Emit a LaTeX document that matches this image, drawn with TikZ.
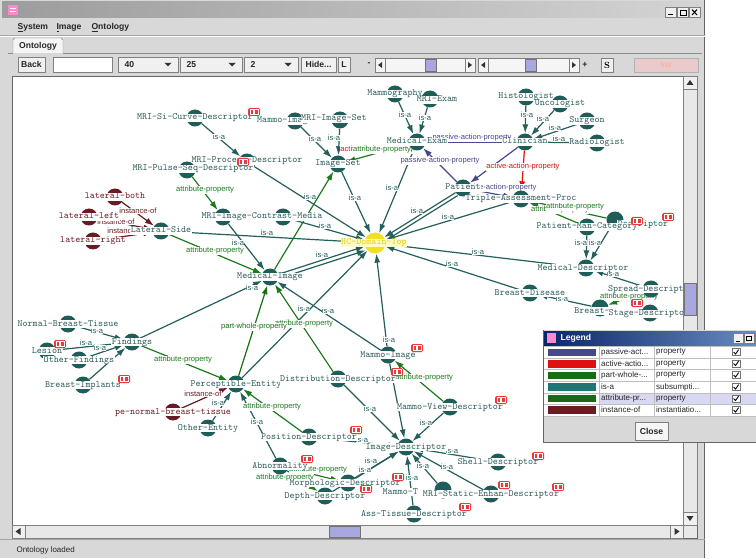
\documentclass[tikz,border=0pt]{standalone}
\usepackage{fontspec}
\newfontfamily\uifont{Liberation Sans}
\usetikzlibrary{arrows.meta}
\definecolor{nodecol}{HTML}{1F5E58}
\definecolor{labcol}{HTML}{2E5A5A}
\definecolor{isacol}{HTML}{245F5C}
\definecolor{attrcol}{HTML}{1C7A1C}
\definecolor{pwcol}{HTML}{127012}
\definecolor{instcol}{HTML}{6A1A22}
\definecolor{passcol}{HTML}{48488C}
\definecolor{actcol}{HTML}{E01010}
\definecolor{uigray}{HTML}{D8D8D8}
\definecolor{thumbcol}{HTML}{A8A8DE}
\definecolor{badgecol}{HTML}{E83A3A}
\definecolor{hccol}{HTML}{F0E020}
\definecolor{hctext}{HTML}{E0CC10}
\definecolor{hcbg}{HTML}{FFFCC8}
\definecolor{ttlA}{HTML}{9C9C9C}
\definecolor{ttlB}{HTML}{D4D4D4}
\definecolor{legA}{HTML}{0A246A}
\definecolor{legB}{HTML}{6A8CC0}
\definecolor{hlcol}{HTML}{D8D8F2}
\definecolor{inscol}{HTML}{EACACA}
\pgfdeclarelayer{bg}\pgfdeclarelayer{edges}\pgfdeclarelayer{top}
\pgfsetlayers{bg,edges,main,top}
\tikzset{
 ont/.style={circle,fill=nodecol,minimum size=17pt,inner sep=0pt},
 insto/.style={ont,fill=instcol},
 hco/.style={ont,fill=hccol,minimum size=21pt},
 lbl/.style={fill=white,inner sep=0.5pt,text height=5.8pt,text depth=1.8pt,font=\ttfamily\fontsize{9.6}{10}\selectfont,text=labcol},
 ilbl/.style={lbl,text=instcol},
 el/.style={fill=white,inner sep=0.3pt,font=\uifont\fontsize{7.6}{8}\selectfont},
 lisa/.style={el,text=isacol},
 lattr/.style={el,text=attrcol},
 linst/.style={el,text=instcol},
 lpass/.style={el,text=passcol},
 lact/.style={el,text=actcol},
 eisa/.style={draw=isacol,line width=1.2pt,-{Latex[length=9pt,width=6pt]}},
 eattr/.style={eisa,draw=attrcol},
 epw/.style={eisa,draw=pwcol},
 einst/.style={eisa,draw=instcol},
 epass/.style={eisa,draw=passcol},
 eact/.style={eisa,draw=actcol},
 ui/.style={font=\uifont\bfseries\fontsize{8.6}{9}\selectfont,text=black!85},
 uin/.style={font=\uifont\fontsize{8}{9}\selectfont,text=black!85},
 btn/.style={draw=black!50,fill=black!6},
}
\newcommand\ON[3]{\node[ont] (#1) at (#2) {};\node[lbl] at (#2) {#3};}
\newcommand\OI[3]{\node[insto] (#1) at (#2) {};\node[ilbl] at (#2) {#3};}
\newcommand\badge[1]{\begin{scope}[shift={(#1)}]\fill[badgecol,rounded corners=1.5pt] (-6,-4) rectangle (6,4);\draw[white,line width=0.6pt] (-4.2,-2.4) rectangle (-0.6,2.4) (0.6,-2.4) rectangle (4.2,2.4);\end{scope}}
\newcommand\legrow[3]{%
 \node[uin,anchor=west,inner sep=0pt] at (601,#1) {#2};
 \node[uin,anchor=west,inner sep=0pt] at (656,#1) {#3};
 \draw[black!55,fill=white] (732,#1-3.5) rectangle (740,#1+3.5);
 \draw[black,line width=0.9pt] (733.6,#1) -- (735.6,#1+2) -- (738.6,#1-2.4);}
\begin{document}
\begin{tikzpicture}[x=1pt,y=-1pt]
\useasboundingbox (0,0) rectangle (756,559);
% ---------------- window chrome
\begin{pgfonlayer}{bg}
\fill[white] (0,0) rectangle (756,559);
\fill[uigray] (0,0) rectangle (705,558);
\draw[black!60] (704.5,0) -- (704.5,558);
\shade[left color=ttlA,right color=ttlB] (2,2) rectangle (703,18);
\fill[magenta!45] (8,5) rectangle (18,15);
\draw[white,line width=0.8pt] (10,8) -- (16,8) (10,11) -- (16,11);
\foreach \x in {665,677,689}{\draw[btn] (\x,7) rectangle (\x+11,17);}
\draw[black,line width=1pt] (668,15) -- (673,15);
\draw[black,line width=0.8pt] (680,10) rectangle (686,15);
\draw[black,line width=1pt] (692,9.5) -- (697,15) (697,9.5) -- (692,15);
\node[ui,anchor=base west] at (14,30) {\underline{S}ystem};
\node[ui,anchor=base west] at (53,30) {\underline{I}mage};
\node[ui,anchor=base west] at (88,30) {\underline{O}ntology};
\draw[black!35] (0,35.5) -- (705,35.5);
\draw[white] (0,36.5) -- (705,36.5);
\draw[black!45,fill=black!4] (13,53) -- (13,40) -- (15,38) -- (61,38) -- (63,40) -- (63,53);
\node[ui] at (38,46) {Ontology};
\draw[black!45] (8,53.5) -- (13,53.5) (63,53.5) -- (702,53.5);
% toolbar
\draw[btn] (18,57) rectangle (45,72); \node[ui] at (31.5,64.5) {Back};
\draw[black!50,fill=white] (53,57) rectangle (112,72);
\draw[btn] (118,57) rectangle (178,72); \node[ui,anchor=west] at (121,64.5) {40};
\draw[btn] (180,57) rectangle (242,72); \node[ui,anchor=west] at (183,64.5) {25};
\draw[btn] (244,57) rectangle (298,72); \node[ui,anchor=west] at (247,64.5) {2};
\foreach \x in {168,232,288}{\fill[black!80] (\x-3.5,63) -- (\x+3.5,63) -- (\x,66.5) -- cycle;}
\draw[btn] (301,57) rectangle (336,72); \node[ui] at (318.5,64.5) {Hide...};
\draw[btn] (338,57) rectangle (350,72); \node[ui] at (344,64.5) {L};
\node[ui] at (369,64.5) {-};
\foreach \a/\b/\t in {375/475/425,478/579/525}{
 \draw[black!50,fill=black!4] (\a,58) rectangle (\b,72);
 \draw[black!50] (\a+10,58) -- (\a+10,72) (\b-10,58) -- (\b-10,72);
 \fill[black!80] (\a+3,65) -- (\a+7,62) -- (\a+7,68) -- cycle;
 \fill[black!80] (\b-3,65) -- (\b-7,62) -- (\b-7,68) -- cycle;
 \draw[black!55,fill=thumbcol] (\t,59) rectangle (\t+11,71);}
\node[ui] at (585,64.5) {+};
\draw[btn] (601,58) rectangle (613,72); \node[font=\rmfamily\bfseries\fontsize{9}{9}\selectfont] at (607,65) {S};
\draw[black!30,fill=inscol] (634,58) rectangle (698,72); \node[uin,text=red!35] at (666,65) {Ins};
% canvas
\fill[white] (12,76) rectangle (683,525);
\draw[black!60] (12,76) rectangle (697,538);
\draw[black!35] (0,539.5) -- (705,539.5);
\node[uin,anchor=base west] at (13,552) {Ontology loaded};
\end{pgfonlayer}
% ---------------- nodes
\ON{mrisi}{195,118}{MRI-Si-Curve-Descriptor}
\ON{mammoimgset}{295,121}{Mammo-Image-Set}
\node[ont] (mriimgset) at (340,120) {}; \node[lbl] at (334,119) {MRI-Image-Set};
\ON{mammography}{395,94}{Mammography}
\node[ont] (mriexam) at (430,99) {}; \node[lbl] at (437,100) {MRI-Exam};
\ON{medexam}{417,142}{Medical-Exam}
\ON{imageset}{338,164}{Image-Set}
\ON{histologist}{526,97}{Histologist}
\ON{uncologist}{560,104}{Uncologist}
\ON{surgeon}{587,121}{Surgeon}
\ON{radiologist}{597,143}{Radiologist}
\ON{clinician}{525,142}{Clinician}
\ON{patient}{463,188}{Patient}
\ON{triple}{521,199}{Triple-Assessment-Proc}
\node[ont] (descr) at (615,220) {}; \node[lbl] at (643,224) {Descriptor};
\ON{pmc}{587,227}{Patient-Man-Category}
\node[ont] (meddesc) at (586,268) {}; \node[lbl] at (583,268) {Medical-Descriptor};
\ON{spread}{651,289}{Spread-Descriptor}
\ON{breastdisease}{530,293}{Breast-Disease}
\node[ont] (breastx) at (600,308) {}; \node[lbl] at (592,311) {Breast-};
\node[ont] (stage) at (650,313) {}; \node[lbl] at (649,314) {Stage-Descriptor};
\OI{lboth}{115,197}{lateral-both}
\OI{lleft}{89,217}{lateral-left}
\OI{lright}{93,241}{lateral-right}
\ON{latside}{161,231}{Lateral-Side}
\node[ont] (mriproc) at (247,162) {}; \node[lbl] at (247,161) {MRI-Process-Descriptor};
\node[ont] (mripulse) at (187,170) {}; \node[lbl] at (193,169) {MRI-Pulse-Seq-Descriptor};
\node[ont] (mriimage) at (223,217) {}; \node[ont] (contrast) at (283,217) {};
\node[lbl] at (262,217) {MRI-Image-Contrast-Media};
\ON{medimage}{270,277}{Medical-Image}
\node[hco] (hc) at (375,243) {}; \node[lbl,text=hctext,fill=hcbg] at (374,243) {HC-Domain-Top};
\ON{normal}{68,324}{Normal-Breast-Tissue}
\ON{findings}{132,342}{Findings}
\ON{lesion}{47,351}{Lesion}
\ON{otherfind}{79,360}{Other-Findings}
\ON{implants}{83,385}{Breast-Implants}
\ON{percept}{236,384}{Perceptible-Entity}
\OI{penormal}{173,412}{pe-normal-breast-tissue}
\ON{otherent}{208,428}{Other-Entity}
\ON{distrib}{338,379}{Distribution-Descriptor}
\ON{mammoimage}{388,355}{Mammo-Image}
\ON{mammoview}{450,407}{Mammo-View-Descriptor}
\ON{position}{309,437}{Position-Descriptor}
\ON{imagedesc}{406,447}{Image-Descriptor}
\ON{abnormality}{280,466}{Abnormality}
\node[ont] (morph) at (348,483) {}; \node[lbl] at (345,483) {Morphologic-Descriptor};
\ON{depth}{325,496}{Depth-Descriptor}
\node[ont] (mammot) at (443,490) {}; \node[lbl,anchor=west] at (382,492) {Mammo-T};
\ON{mristatic}{491,494}{MRI-Static-Enhan-Descriptor}
\ON{shell}{498,462}{Shell-Descriptor}
\ON{asstissue}{414,514}{Ass-Tissue-Descriptor}
% ---------------- edges
\begin{pgfonlayer}{edges}
\draw[eisa] (mrisi) -- (mriproc);
\draw[eisa] (mammoimgset) -- (imageset);
\draw[eisa] (mriimgset) -- (imageset);
\draw[eisa] (mammography) -- (medexam);
\draw[eisa] (mriexam) -- (medexam);
\draw[eisa] (histologist) -- (clinician);
\draw[eisa] (uncologist) -- (clinician);
\draw[eisa] (surgeon) -- (clinician);
\draw[eisa] (radiologist) -- (clinician);
\draw[eisa] (imageset) -- (hc);
\draw[eisa] (medexam) -- (hc);
\draw[eisa] (patient) -- (hc);
\draw[eisa,transform canvas={shift={(2,3)}}] (patient) -- (hc);
\draw[eisa] (triple) -- (hc);
\draw[eisa] (mriproc) -- (hc);
\draw[eisa] (contrast) -- (hc);
\draw[eisa] (latside) -- (hc);
\draw[eisa] (medimage) -- (hc);
\draw[eisa,transform canvas={shift={(1,4)}}] (medimage) -- (hc);
\draw[eisa] (meddesc) -- (hc);
\draw[eisa] (breastdisease) -- (hc);
\draw[eisa] (mammoimage) -- (hc);
\draw[eisa] (percept) -- (hc);
\draw[eisa] (mriimage) -- (medimage);
\draw[eisa] (mammoimage) -- (medimage);
\draw[eisa] (findings) -- (medimage);
\draw[eisa] (normal) -- (findings);
\draw[eisa] (lesion) -- (findings);
\draw[eisa] (otherfind) -- (findings);
\draw[eisa] (implants) -- (findings);
\draw[eisa] (pmc) -- (meddesc);
\draw[eisa] (descr) -- (meddesc);
\draw[eisa] (spread) -- (meddesc);
\draw[eisa] (breastx) -- (breastdisease);
\draw[eisa] (otherent) -- (percept);
\draw[eisa] (abnormality) -- (percept);
\draw[eisa] (distrib) -- (imagedesc);
\draw[eisa] (mammoview) -- (imagedesc);
\draw[eisa] (mammoimage) -- (imagedesc);
\draw[eisa] (position) -- (imagedesc);
\draw[eisa] (morph) -- (imagedesc);
\draw[eisa] (depth) -- (imagedesc);
\draw[eisa] (asstissue) -- (imagedesc);
\draw[eisa] (mammot) -- (imagedesc);
\draw[eisa] (mristatic) -- (imagedesc);
\draw[eisa] (shell) -- (imagedesc);
\draw[eattr] (mripulse) -- (mriimage);
\draw[eattr] (latside) -- (medimage);
\draw[eattr] (medimage) -- (imageset);
\draw[eattr] (medexam) -- (imageset);
\draw[eattr] (findings) -- (percept);
\draw[eattr] (distrib) -- (medimage);
\draw[eattr] (position) -- (percept);
\draw[eattr] (mammoview) -- (mammoimage);
\draw[eattr] (abnormality) -- (morph);
\draw[eattr] (abnormality) -- (depth);
\draw[eattr] (pmc) -- (triple);
\draw[eattr] (descr) -- (triple);
\draw[eattr] (spread) -- (breastx);
\draw[epw] (percept) -- (medimage);
\draw[einst] (lboth) -- (latside);
\draw[einst] (lleft) -- (latside);
\draw[einst] (lright) -- (latside);
\draw[einst] (penormal) -- (percept);
\draw[epass] (clinician) -- (medexam);
\draw[epass] (patient) -- (medexam);
\draw[epass] (clinician) -- (patient);
\draw[epass] (patient) -- (triple);
\draw[eact] (clinician) -- (triple);
% edge labels
\foreach \p in {{219,137},{315,139},{334,138},{405,115},{425,118},{527,115},{543,119},{555,128},{559,139},
 {355,198},{392,188},{417,211},{448,217},{310,197},{325,226},{267,233},{322,255},{478,252},{452,264},
 {389,340},{304,309},{238,243},{328,311},{252,288},{97,331},{86,343},{100,348},{581,243},{595,243},
 {613,274},{562,299},{218,403},{257,422},{370,409},{426,423},{362,440},{371,461},{365,470},{412,478},
 {423,466},{447,467},{452,451}}{\node[lisa] at (\p) {is-a};}
\node[lact] at (377,150) {active-action-property};
\foreach \p in {{205,190},{215,251},{382,150},{183,360},{304,324},{272,407},{424,378},{318,470},{285,478},
 {560,210},{575,207},{629,297}}{\node[lattr] at (\p) {attribute-property};}
\node[lattr,text=pwcol] at (254,327) {part-whole-property};
\node[linst] at (138,211) {instance-of};
\node[linst] at (116,222) {instance-of};
\node[linst] at (126,231) {instance-of};
\node[linst] at (203,394) {instance-of};
\node[lpass] at (472,138) {passive-action-property};
\node[lpass] at (440,161) {passive-action-property};
\node[lpass] at (497,188) {passive-action-property};
\node[lact] at (523,167) {active-action-property};
\end{pgfonlayer}
% ---------------- badges
\foreach \p in {{254,112},{243,162},{637,221},{668,217},{60,344},{124,379},{417,348},{397,372},{501,400},
 {356,430},{307,459},{398,477},{366,489},{538,456},{504,485},{558,487},{465,507},{637,303}}{\badge{\p}}
% ---------------- scrollbars and legend
\begin{pgfonlayer}{top}
\fill[black!9] (683,76) rectangle (697,538);
\fill[black!9] (12,525) rectangle (683,538);
\draw[black!50] (683,76) rectangle (697,525) (12,525) rectangle (683,538);
\draw[btn] (683,76) rectangle (697,89); \fill[black!80] (690,80) -- (686.5,85) -- (693.5,85) -- cycle;
\draw[btn] (683,512) rectangle (697,525); \fill[black!80] (690,521) -- (686.5,516) -- (693.5,516) -- cycle;
\draw[black!55,fill=thumbcol] (684,283) rectangle (696,315);
\draw[btn] (12,525) rectangle (25,538); \fill[black!80] (15.5,531.5) -- (20.5,528) -- (20.5,535) -- cycle;
\draw[btn] (670,525) rectangle (683,538); \fill[black!80] (679.5,531.5) -- (674.5,528) -- (674.5,535) -- cycle;
\draw[black!55,fill=thumbcol] (329,526) rectangle (360,537);
% legend
\fill[uigray] (543,330) rectangle (756,443);
\draw[black!60] (543.5,330) -- (543.5,442.5) -- (756,442.5);
\shade[left color=legA,right color=legB] (544,331) rectangle (756,345);
\fill[magenta!45] (547,333) rectangle (556,343);
\node[anchor=west,text=white,font=\uifont\bfseries\fontsize{8.6}{9}\selectfont] at (557,338) {Legend};
\draw[btn] (733,333) rectangle (743,343); \draw[btn] (744,333) rectangle (754,343); \draw[btn] (755,333) rectangle (762,343);
\draw[black,line width=0.9pt] (735.5,341) -- (739.5,341);
\draw[black,line width=0.7pt] (746.5,336) rectangle (751.5,340.5);
\fill[white] (544,346) rectangle (756,416);
\fill[hlcol] (599,393) rectangle (756,404);
\foreach \y in {346,358,369,381,393,404,416}{\draw[black!25] (544,\y) -- (756,\y);}
\foreach \x in {599,654,710}{\draw[black!25] (\x,346) -- (\x,416);}
\fill[passcol] (548,348.5) rectangle (596,356);
\fill[actcol] (548,360) rectangle (596,367.5);
\fill[pwcol] (548,371.5) rectangle (596,379);
\fill[isacol!85!cyan] (548,383) rectangle (596,390.5);
\fill[attrcol!85!black] (548,394.5) rectangle (596,402);
\fill[instcol] (548,406) rectangle (596,413.5);
\legrow{352}{passive-act...}{property}
\legrow{363.5}{active-actio...}{property}
\legrow{375}{part-whole-...}{property}
\legrow{387}{is-a}{subsumpti...}
\legrow{398.5}{attribute-pr...}{property}
\legrow{410}{instance-of}{instantiatio...}
\draw[black!50,fill=black!4] (635,422) rectangle (668,440);
\node[ui] at (651.5,431) {Close};
\end{pgfonlayer}
\end{tikzpicture}
\end{document}
